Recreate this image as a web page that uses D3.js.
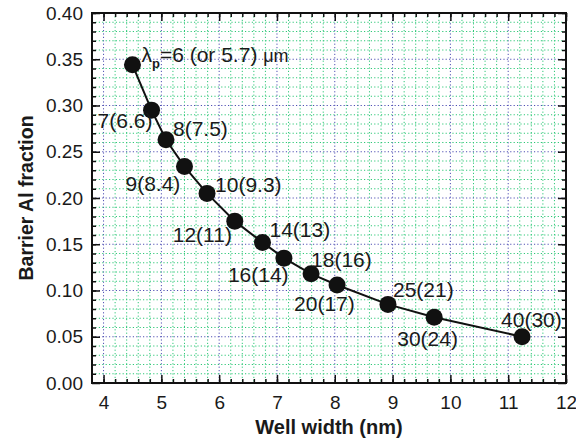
<!DOCTYPE html>
<html>
<head>
<meta charset="utf-8">
<script src="https://cdn.jsdelivr.net/npm/d3@7"></script>
<style>
  body { margin: 0; background: #fff; }
  text { font-family: "Liberation Sans", Arial, sans-serif; fill: #1a1a1a; }
</style>
</head>
<body>
<div id="chart"></div>
<script>
'use strict';

// values
const wellWidth = [4.50, 4.83, 5.08, 5.40, 5.79, 6.27, 6.75, 7.12, 7.59, 8.04, 8.92, 9.72, 11.24];
const alFraction = [0.344, 0.295, 0.263, 0.234, 0.205, 0.175, 0.152, 0.135, 0.118, 0.106, 0.085, 0.071, 0.050];
const pointLabels = ['6 (or 5.7)', '7(6.6)', '8(7.5)', '9(8.4)', '10(9.3)', '12(11)', '14(13)',
                     '16(14)', '18(16)', '20(17)', '25(21)', '30(24)', '40(30)'];
const xTicks = [4, 5, 6, 7, 8, 9, 10, 11, 12];
const yTicks = [0, 0.05, 0.10, 0.15, 0.20, 0.25, 0.30, 0.35, 0.40];

// label offsets from each point (pixels)
const labelOffset = [[9, -3], [-54, 18], [7, -4], [-59, 24], [8, -1], [-62, 21], [7, -5],
                     [-56, 24], [0, -7], [-43, 26], [5, -7], [-37, 29], [-21, -10]];

const width = 576, height = 447;
const plot = { left: 92, right: 566, top: 13, bottom: 383 };

const svg = d3.select('#chart').append('svg').attr('width', width).attr('height', height);

const x = d3.scaleLinear().domain([3.8, 12]).range([plot.left, plot.right]);
const y = d3.scaleLinear().domain([0, 0.40]).range([plot.bottom, plot.top]);

const xMinor = d3.range(4, 12.001, 0.2).map(d => +d.toFixed(1));
const yMinor = d3.range(0.01, 0.4001, 0.01).map(d => +d.toFixed(2));
const isMajorX = d => Math.abs(d - Math.round(d)) < 1e-6;
const isMajorY = d => Math.abs(d / 0.05 - Math.round(d / 0.05)) < 1e-6;

/* -- grid ---------------------------------------------------------- */
const grid = svg.append('g').attr('class', 'grid');
grid.selectAll('.vgrid').data(xMinor.filter(d => d < 12)).enter().append('line')
    .attr('x1', d => x(d)).attr('x2', d => x(d))
    .attr('y1', plot.top).attr('y2', plot.bottom)
    .attr('stroke', d => isMajorX(d) ? '#5050b4' : '#2fc878')
    .attr('stroke-width', 1)
    .attr('stroke-dasharray', '1.2,2.2');
grid.selectAll('.hgrid').data(yMinor.filter(d => d < 0.4)).enter().append('line')
    .attr('y1', d => y(d)).attr('y2', d => y(d))
    .attr('x1', plot.left).attr('x2', plot.right)
    .attr('stroke', d => isMajorY(d) ? '#5050b4' : '#2fc878')
    .attr('stroke-width', 1)
    .attr('stroke-dasharray', '1.2,2.2');

/* -- axes (ticks inside, on all four sides) ------------------------ */
const styleAxis = g => {
    g.select('.domain').remove();
    g.selectAll('.tick line').attr('stroke', '#111').attr('stroke-width', 1.5);
    g.selectAll('.tick text').style('font-size', '19px').attr('fill', '#1a1a1a');
};

svg.append('g').attr('transform', `translate(0,${plot.bottom})`)
    .call(d3.axisBottom(x).tickValues(xMinor).tickSize(-4).tickFormat('')).call(styleAxis);
svg.append('g').attr('transform', `translate(0,${plot.bottom})`)
    .call(d3.axisBottom(x).tickValues(xTicks).tickSize(-8).tickPadding(13).tickFormat(d3.format('d')))
    .call(styleAxis);
svg.append('g').attr('transform', `translate(0,${plot.top})`)
    .call(d3.axisTop(x).tickValues(xMinor).tickSize(-4).tickFormat('')).call(styleAxis);
svg.append('g').attr('transform', `translate(0,${plot.top})`)
    .call(d3.axisTop(x).tickValues(xTicks).tickSize(-8).tickFormat('')).call(styleAxis);

svg.append('g').attr('transform', `translate(${plot.left},0)`)
    .call(d3.axisLeft(y).tickValues(yMinor).tickSize(-4).tickFormat('')).call(styleAxis);
svg.append('g').attr('transform', `translate(${plot.left},0)`)
    .call(d3.axisLeft(y).tickValues(yTicks).tickSize(-8).tickPadding(9).tickFormat(d3.format('.2f')))
    .call(styleAxis);
svg.append('g').attr('transform', `translate(${plot.right},0)`)
    .call(d3.axisRight(y).tickValues(yMinor).tickSize(-4).tickFormat('')).call(styleAxis);
svg.append('g').attr('transform', `translate(${plot.right},0)`)
    .call(d3.axisRight(y).tickValues(yTicks).tickSize(-8).tickFormat('')).call(styleAxis);

svg.append('rect')
    .attr('x', plot.left).attr('y', plot.top)
    .attr('width', plot.right - plot.left).attr('height', plot.bottom - plot.top)
    .attr('fill', 'none').attr('stroke', '#111').attr('stroke-width', 2);

/* -- axis titles --------------------------------------------------- */
svg.append('text')
    .attr('x', (plot.left + plot.right) / 2).attr('y', 434)
    .attr('text-anchor', 'middle')
    .style('font-size', '20px').style('font-weight', 'bold')
    .text('Well width (nm)');
svg.append('text')
    .attr('transform', `translate(33,${(plot.top + plot.bottom) / 2}) rotate(-90)`)
    .attr('text-anchor', 'middle')
    .style('font-size', '19.5px').style('font-weight', 'bold')
    .text('Barrier Al fraction');

/* -- data ---------------------------------------------------------- */
const data = wellWidth.map((w, i) => ({ w: w, al: alFraction[i], label: pointLabels[i], off: labelOffset[i] }));

svg.append('path').datum(data)
    .attr('fill', 'none').attr('stroke', '#111').attr('stroke-width', 2)
    .attr('d', d3.line().x(d => x(d.w)).y(d => y(d.al)));

svg.selectAll('.pt').data(data).enter().append('circle')
    .attr('cx', d => x(d.w)).attr('cy', d => y(d.al)).attr('r', 8.5)
    .attr('fill', '#111');

const labels = svg.selectAll('.lbl').data(data).enter().append('text')
    .attr('x', d => x(d.w) + d.off[0])
    .attr('y', d => y(d.al) + d.off[1])
    .style('font-size', '21px');

labels.filter((d, i) => i > 0).text(d => d.label);

const first = labels.filter((d, i) => i === 0);
first.append('tspan').text('λ');
first.append('tspan').attr('dy', 6).style('font-size', '13px').style('font-weight', 'bold').text('p');
first.append('tspan').attr('dy', -6).text(d => '=' + d.label + ' ');
first.append('tspan').style('font-size', '18px').text('μm');
</script>
</body>
</html>
